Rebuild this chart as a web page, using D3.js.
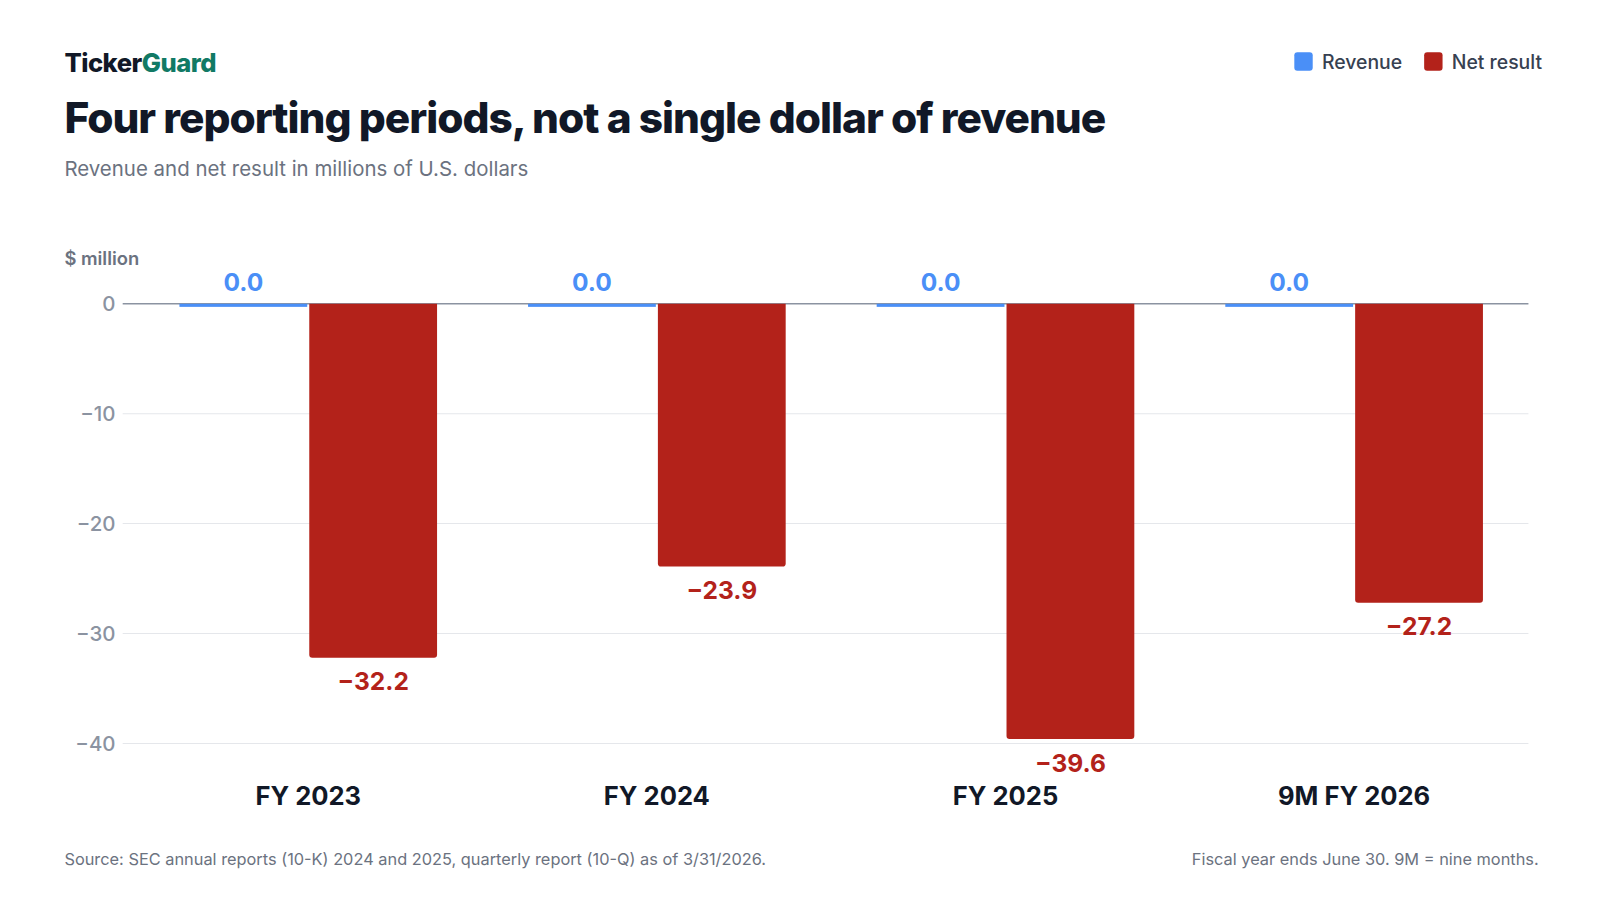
<!DOCTYPE html>
<html><head><meta charset="utf-8">
<script src="https://cdn.jsdelivr.net/npm/d3@7"></script>
<style>
body{margin:0;background:#fff;font-family:Inter,"Noto Sans",sans-serif;}
svg{display:block;}
</style></head>
<body><div id="chart"></div>
<script>
var periods = ["FY 2023","FY 2024","FY 2025","9M FY 2026"];
var revenue = [0,0,0,0];
var netResult = [-32.2,-23.9,-39.6,-27.2];
var yTicks = [0,-10,-20,-30,-40];
var blue = "#4a8ff7", red = "#b3221a", dark = "#111827", grey = "#6b7280";
var w = 1600, h = 900;
var svg = d3.select("#chart").append("svg").attr("width",w).attr("height",h)
  .attr("viewBox","0 0 1565 880");
var x = d3.scaleBand().domain(periods).range([131,1495]);
var y = d3.scaleLinear().domain([-40,0]).range([727,297]);
var bw = 125;
// header
var brand = svg.append("text").attr("x",63).attr("y",70).attr("font-size",25).attr("font-weight",800).attr("letter-spacing","-0.5");
brand.append("tspan").attr("fill",dark).text("Ticker");
brand.append("tspan").attr("fill","#117a65").text("Guard");
svg.append("text").attr("x",63).attr("y",130).attr("font-size",41.5).attr("font-weight",800)
  .attr("fill",dark).attr("letter-spacing","-1").text("Four reporting periods, not a single dollar of revenue");
svg.append("text").attr("x",63).attr("y",172).attr("font-size",20).attr("fill",grey)
  .text("Revenue and net result in millions of U.S. dollars");
// legend
[["Revenue",blue,1266],["Net result",red,1393]].forEach(function(l){
  svg.append("rect").attr("x",l[2]).attr("y",51).attr("width",18).attr("height",18).attr("rx",3).attr("fill",l[1]);
  svg.append("text").attr("x",l[2]+27).attr("y",67).attr("font-size",19).attr("font-weight",500).attr("fill","#374151").text(l[0]);
});
// grid
svg.append("text").attr("x",63).attr("y",259).attr("font-size",18).attr("font-weight",600).attr("fill",grey).text("$ million");
yTicks.forEach(function(t){
  svg.append("line").attr("x1",120).attr("x2",1495).attr("y1",y(t)).attr("y2",y(t))
    .attr("stroke",t===0?"#8b93a1":"#e5e7eb").attr("stroke-width",t===0?1.5:1);
  svg.append("text").attr("x",113).attr("y",y(t)+7).attr("text-anchor","end").attr("font-size",20)
    .attr("font-weight",500).attr("fill","#8b93a1").text(t<0?"\u2212"+Math.abs(t):t);
});
// bars
periods.forEach(function(p,i){
  var c = x(p)+x.bandwidth()/2;
  svg.append("rect").attr("x",c-bw-1).attr("y",y(0)).attr("width",bw).attr("height",Math.max(3,y(revenue[i])-y(0)))
    .attr("fill",blue);
  svg.append("text").attr("x",c-bw/2-1).attr("y",y(0)-13).attr("text-anchor","middle").attr("font-size",24)
    .attr("font-weight",700).attr("fill",blue).text(revenue[i].toFixed(1));
  var x0=c+1,x1=c+1+bw,y0=y(0),y1=y(netResult[i]),r=3;
  svg.append("path").attr("fill",red)
    .attr("d","M"+x0+","+y0+"H"+x1+"V"+(y1-r)+"Q"+x1+","+y1+" "+(x1-r)+","+y1+"H"+(x0+r)+"Q"+x0+","+y1+" "+x0+","+(y1-r)+"Z");
  svg.append("text").attr("x",c+1+bw/2).attr("y",y(netResult[i])+32).attr("text-anchor","middle").attr("font-size",24)
    .attr("font-weight",700).attr("fill",red).text("\u2212"+Math.abs(netResult[i]).toFixed(1));
  svg.append("text").attr("x",c).attr("y",787).attr("text-anchor","middle").attr("font-size",25)
    .attr("font-weight",700).attr("fill",dark).text(p);
});
// footer
svg.append("text").attr("x",63).attr("y",846).attr("font-size",16).attr("fill",grey)
  .text("Source: SEC annual reports (10-K) 2024 and 2025, quarterly report (10-Q) as of 3/31/2026.");
svg.append("text").attr("x",1505).attr("y",846).attr("text-anchor","end").attr("font-size",16).attr("fill",grey)
  .text("Fiscal year ends June 30. 9M = nine months.");
</script></body></html>
